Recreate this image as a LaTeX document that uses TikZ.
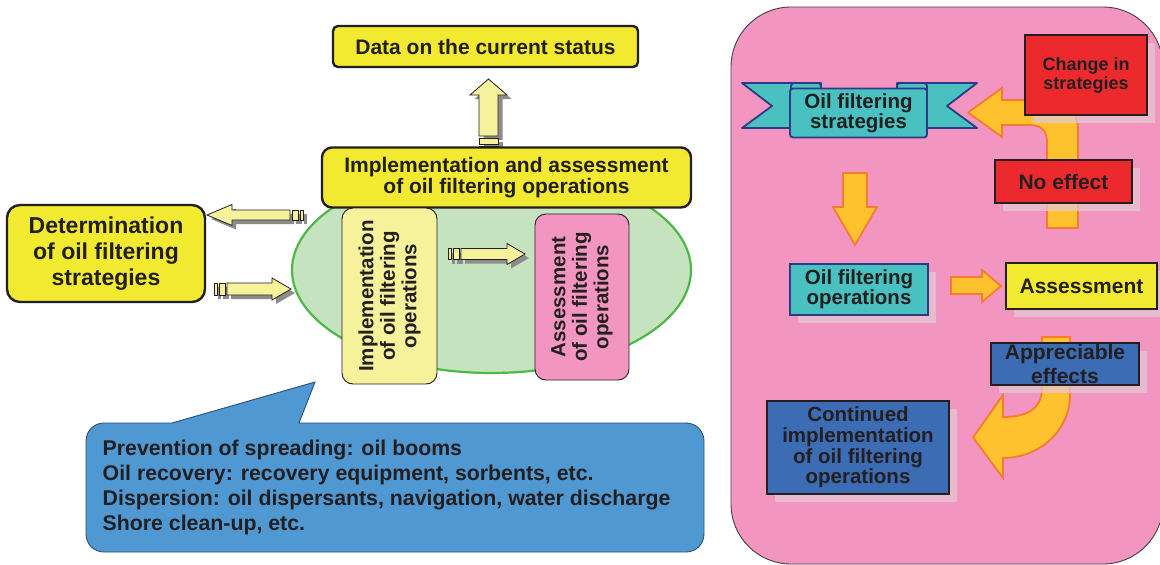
\documentclass[tikz,border=0pt]{standalone}
\usepackage{fontspec}
\setmainfont{Liberation Sans}
\usetikzlibrary{shadows}

\definecolor{ink}{HTML}{231F20}
\definecolor{boxyellow}{HTML}{F2EA30}
\definecolor{paleyellow}{HTML}{F6F29B}
\definecolor{leafgreen}{HTML}{C6E3C0}
\definecolor{edgegreen}{HTML}{4DB748}
\definecolor{rose}{HTML}{F296C1}
\definecolor{skyblue}{HTML}{5098D2}
\definecolor{calloutedge}{HTML}{2B4F7A}
\definecolor{ribbonteal}{HTML}{48C1C0}
\definecolor{ribbonedge}{HTML}{2E3A86}
\definecolor{alarmred}{HTML}{EC2A2E}
\definecolor{deepblue}{HTML}{3C6CB4}
\definecolor{amber}{HTML}{FDC22E}
\definecolor{amberedge}{HTML}{F47B30}
\definecolor{shadowpink}{HTML}{E5C7D2}
\definecolor{arrowshade}{HTML}{8C8C8C}

\newcommand{\txtsize}[2]{\fontsize{#1}{#2}\selectfont}

\tikzset{
  % striped block arrow, tail at the origin, tip at (#1,0)
  % #1 length, #2 head length, #3 head half-width, #4 shaft half-width
  pics/stripearrow/.style n args={4}{code={
    \path[pic actions] (0,-#4) rectangle (3,#4);
    \path[pic actions] (5,-#4) rectangle (11,#4);
    \path[pic actions] (13,-#4) -- ({#1-#2},-#4) -- ({#1-#2},-#3) -- (#1,0)
      -- ({#1-#2},#3) -- ({#1-#2},#4) -- (13,#4) -- cycle;
  }},
  blockshade/.style={fill=arrowshade, draw=none},
  blockbody/.style={fill=paleyellow, draw=ink, line width=0.8, line join=miter},
  headbox/.style={draw=ink, line width=2.4, fill=boxyellow, align=center, inner sep=0},
  innerbox/.style={draw=ink, line width=0.9, align=center, inner sep=0, rounded corners=11,
    font=\bfseries\txtsize{20.5}{21.5}},
  flowbox/.style={draw=ink, line width=2, align=center, inner sep=0,
    font=\bfseries\txtsize{21}{20},
    drop shadow={shadow xshift=8pt, shadow yshift=-8pt, fill=shadowpink, opacity=0.75}},
  amberarrow/.style={fill=amber, draw=amberedge, line width=1.8, line join=miter},
  ribbonpart/.style={fill=ribbonteal, draw=ribbonedge, line width=1.8, line join=round},
}

\begin{document}
\begin{tikzpicture}[x=1pt, y=-1pt, every node/.style={text=ink, font=\bfseries}]
\useasboundingbox (0,0) rectangle (1160,565);
\fill[white] (0,0) rectangle (1160,565);

% ---------------- left: overall process ----------------
\draw[fill=leafgreen, draw=edgegreen, line width=2.2] (491.5,270) ellipse [x radius=199.5, y radius=103];

% arrow up to the status data
\pic[blockshade, rotate=90] at (493,153) {stripearrow={70}{16}{18.5}{9.5}};
\pic[blockbody, rotate=90] at (488.5,149) {stripearrow={70}{16}{18.5}{9.5}};

\node[headbox, rounded corners=5, minimum width=305, minimum height=41,
  font=\bfseries\txtsize{21}{21}] (status) at (485.5,46.5) {Data on the current status};

\node[headbox, rounded corners=10, minimum width=369, minimum height=60,
  font=\bfseries\txtsize{21}{21}] (implass) at (506.5,177.5)
  {Implementation and assessment\\of oil filtering operations};

\node[headbox, rounded corners=13, minimum width=198, minimum height=97,
  font=\bfseries\txtsize{23}{26}] (determ) at (106,253.5)
  {Determination\\of oil filtering\\strategies};

\node[innerbox, fill=paleyellow, rotate=90, minimum width=176, minimum height=95] (impl)
  at (389.5,296) {Implementation\\of oil filtering\\operations};

\node[innerbox, fill=rose, rotate=90, minimum width=166, minimum height=94] (assess)
  at (582,297) {Assessment\\of oil filtering\\operations};

% striped arrows between the stages
\pic[blockshade, rotate=180] at (307,219) {stripearrow={96}{25}{10.5}{5}};
\pic[blockbody, rotate=180] at (303,215) {stripearrow={96}{25}{10.5}{5}};
\pic[blockshade] at (218,293) {stripearrow={77}{19}{11}{6}};
\pic[blockbody] at (214,289) {stripearrow={77}{19}{11}{6}};
\pic[blockshade] at (452,258) {stripearrow={77}{18}{10.5}{5.5}};
\pic[blockbody] at (448,254) {stripearrow={77}{18}{10.5}{5.5}};

% callout with the response measures
\draw[fill=skyblue, draw=calloutedge, line width=0.9]
  (172,423) -- (315,382) -- (299,423) -- (686,423)
  .. controls (696,423) and (704,431) .. (704,441) -- (704,534)
  .. controls (704,544) and (696,552) .. (686,552) -- (104,552)
  .. controls (94,552) and (86,544) .. (86,534) -- (86,441)
  .. controls (86,431) and (94,423) .. (104,423) -- cycle;
\node[anchor=north west, align=left, inner sep=0,
  font=\bfseries\txtsize{21.3}{25.2}] (measures) at (102.5,439.5)
  {Prevention of spreading: oil booms\\
   Oil recovery: recovery equipment, sorbents, etc.\\
   Dispersion: oil dispersants, navigation, water discharge\\
   Shore clean-up, etc.};

% ---------------- right: decision cycle ----------------
\draw[fill=rose, draw=ink!85, line width=0.9, rounded corners=60] (731,7) rectangle (1163,564);

% ribbon banner
\draw[ribbonpart] (821,83) -- (742,83) -- (772,106) -- (742,128) -- (821,128) -- cycle;
\draw[ribbonpart] (897,83) -- (977,83) -- (947,106) -- (977,128) -- (897,128) -- cycle;
\draw[ribbonpart, rounded corners=3] (791,83) rectangle (821,96);
\draw[ribbonpart, rounded corners=3] (897,83) rectangle (927,96);
\node[draw=ribbonedge, line width=1.8, fill=ribbonteal, rounded corners=3, inner sep=0,
  minimum width=137, minimum height=49, align=center,
  font=\bfseries\txtsize{20.5}{19}] (strat) at (858.5,113) {Oil filtering\\strategies};

% bent arrow back to the strategies
\draw[amberarrow] (1047,228) -- (1047,142) .. controls (1047,132) and (1042,125) .. (1030,125)
  -- (1002,125) -- (1002,137) -- (968,112.5) -- (1002,88) -- (1002,100) -- (1050,100)
  .. controls (1066,100) and (1078,112) .. (1078,130) -- (1078,228) -- cycle;

\node[flowbox, fill=alarmred, minimum width=122, minimum height=80,
  font=\bfseries\txtsize{18}{19}] (change) at (1086,75) {Change in\\strategies};
\node[flowbox, fill=alarmred, minimum width=137, minimum height=43] (noeffect)
  at (1063.5,181.5) {No effect};

% arrow down to the operations
\draw[amberarrow] (843,173) -- (867,173) -- (867,207) -- (877,207) -- (855,245)
  -- (833,207) -- (843,207) -- cycle;

\node[flowbox, draw=ribbonedge, fill=ribbonteal, minimum width=138, minimum height=51,
  font=\bfseries\txtsize{20.5}{19}] (ops) at (859,289.5) {Oil filtering\\operations};

\draw[amberarrow] (951,277) -- (982,277) -- (982,270) -- (1001,286) -- (982,302)
  -- (982,294) -- (951,294) -- cycle;

\node[flowbox, fill=boxyellow, minimum width=151, minimum height=46] (assessR)
  at (1081.5,286) {Assessment};

% curved arrow to continued implementation
\draw[amberarrow] (1042,337) -- (1070,337) -- (1070,395)
  .. controls (1070,430) and (1040,458) .. (1003,458) -- (1003,478) -- (973,437.5)
  -- (1003,395) -- (1003,417) .. controls (1025,417) and (1042,410) .. (1042,388) -- cycle;

\node[flowbox, fill=deepblue, minimum width=148, minimum height=42,
  font=\bfseries\txtsize{21}{24}] (apprec) at (1065,364) {Appreciable\\effects};

\node[flowbox, fill=deepblue, minimum width=182, minimum height=93,
  font=\bfseries\txtsize{20.5}{20.7}] (cont) at (858,447.5)
  {Continued\\implementation\\of oil filtering\\operations};
\end{tikzpicture}
\end{document}
